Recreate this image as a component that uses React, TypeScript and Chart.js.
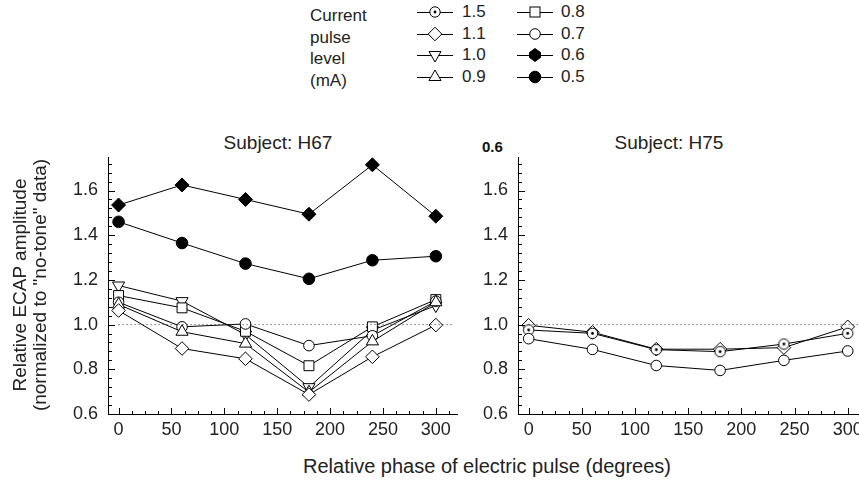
import React, { useEffect, useRef } from "react";
import { Chart, registerables } from "chart.js";
Chart.register(...registerables);

// ---------------- data ----------------
const PHASES = [0, 60, 120, 180, 240, 300];

// Subject H67
const H67_06 = [1.535, 1.625, 1.56, 1.494, 1.715, 1.485];
const H67_05 = [1.46, 1.365, 1.273, 1.205, 1.288, 1.306];
const H67_10 = [1.175, 1.105, 0.955, 0.72, 0.975, 1.085];
const H67_08 = [1.13, 1.075, 0.97, 0.816, 0.99, 1.112];
const H67_07 = [1.1, 0.99, 1.003, 0.906, 0.95, 1.105];
const H67_09 = [1.09, 0.968, 0.915, 0.698, 0.925, 1.1];
const H67_11 = [1.063, 0.893, 0.847, 0.687, 0.856, 0.998];

// Subject H75
const H75_15 = [0.976, 0.961, 0.888, 0.879, 0.913, 0.961];
const H75_11 = [0.997, 0.966, 0.89, 0.89, 0.897, 0.99];
const H75_07 = [0.937, 0.889, 0.817, 0.795, 0.84, 0.882];

const X_TICKS = [0, 50, 100, 150, 200, 250, 300];
const Y_TICKS = [0.6, 0.8, 1.0, 1.2, 1.4, 1.6];
const X_MIN = -10;
const X_MAX = 320;
const Y_MIN = 0.6;
const Y_MAX = 1.75;
const X_MINOR_STEP = 12.5;
const Y_MINOR_STEP = 0.04;
const REF_VALUE = 1.0;
const REF_X = [0, 315];

const LEGEND_TITLE = ["Current", "pulse", "level", "(mA)"];
const LEGEND_COL1 = [
  { label: "1.5", shape: "dotCircle" },
  { label: "1.1", shape: "diamond" },
  { label: "1.0", shape: "triDown" },
  { label: "0.9", shape: "triUp" },
];
const LEGEND_COL2 = [
  { label: "0.8", shape: "square" },
  { label: "0.7", shape: "circle" },
  { label: "0.6", shape: "diamondFilled" },
  { label: "0.5", shape: "circleFilled" },
];

const X_TITLE = "Relative phase of electric pulse (degrees)";
const Y_TITLE_1 = "Relative ECAP amplitude";
const Y_TITLE_2 = '(normalized to "no-tone" data)';

const FONT = '"Liberation Sans", Arial, Helvetica, sans-serif';
const TEXT = "#222";

// ---------------- helpers ----------------
let dotCircleCanvas: HTMLCanvasElement | null = null;
function getDotCircle() {
  if (dotCircleCanvas) return dotCircleCanvas;
  const c = document.createElement("canvas");
  c.width = 13;
  c.height = 13;
  const g = c.getContext("2d")!;
  g.beginPath();
  g.arc(6.5, 6.5, 5.2, 0, Math.PI * 2);
  g.fillStyle = "#fff";
  g.fill();
  g.lineWidth = 1;
  g.strokeStyle = "#000";
  g.stroke();
  g.beginPath();
  g.arc(6.5, 6.5, 1.4, 0, Math.PI * 2);
  g.fillStyle = "#000";
  g.fill();
  dotCircleCanvas = c;
  return c;
}

function styleFor(shape: string): any {
  switch (shape) {
    case "diamondFilled":
      return { pointStyle: "rectRot", pointRadius: 7, pointBackgroundColor: "#000" };
    case "circleFilled":
      return { pointStyle: "circle", pointRadius: 5.8, pointBackgroundColor: "#000" };
    case "triDown":
      return { pointStyle: "triangle", pointRotation: 180, pointRadius: 7, pointBackgroundColor: "#fff" };
    case "triUp":
      return { pointStyle: "triangle", pointRadius: 7, pointBackgroundColor: "#fff" };
    case "square":
      return { pointStyle: "rect", pointRadius: 7, pointBackgroundColor: "#fff" };
    case "circle":
      return { pointStyle: "circle", pointRadius: 5.3, pointBackgroundColor: "#fff" };
    case "diamond":
      return { pointStyle: "rectRot", pointRadius: 6.8, pointBackgroundColor: "#fff" };
    case "dotCircle":
      return { pointStyle: getDotCircle(), pointRadius: 6, pointBackgroundColor: "#fff" };
  }
  return {};
}

function series(label: string, values: number[], shape: string) {
  return {
    label,
    data: PHASES.map((p, i) => ({ x: p, y: values[i] })),
    borderColor: "#000",
    borderWidth: 1,
    pointBorderColor: "#000",
    pointBorderWidth: 1,
    showLine: true,
    ...styleFor(shape),
  };
}

function refLine() {
  return {
    label: "ref",
    data: REF_X.map((x) => ({ x, y: REF_VALUE })),
    borderColor: "#333",
    borderWidth: 1,
    borderDash: [1, 3],
    pointRadius: 0,
    showLine: true,
  };
}

const axisTicks = {
  id: "axisTicks",
  afterDraw(chart: any) {
    const { ctx, chartArea } = chart;
    const xs = chart.scales.x;
    const ys = chart.scales.y;
    ctx.save();
    ctx.strokeStyle = "#000";
    ctx.lineWidth = 1;
    ctx.beginPath();
    for (let v = Y_MIN; v <= Y_MAX + 1e-9; v += Y_MINOR_STEP) {
      const y = Math.round(ys.getPixelForValue(v)) + 0.5;
      const major = Y_TICKS.some((t) => Math.abs(t - v) < 1e-6);
      const len = major ? 7 : 4;
      ctx.moveTo(chartArea.left, y);
      ctx.lineTo(chartArea.left + len, y);
    }
    for (let v = 0; v <= X_MAX + 1e-9; v += X_MINOR_STEP) {
      const x = Math.round(xs.getPixelForValue(v)) + 0.5;
      const major = X_TICKS.some((t) => Math.abs(t - v) < 1e-6);
      const len = major ? 6 : 3;
      ctx.moveTo(x, chartArea.bottom);
      ctx.lineTo(x, chartArea.bottom - len);
    }
    ctx.stroke();
    ctx.restore();
  },
};

function makeOptions(padRight: number): any {
  return {
    animation: false,
    responsive: false,
    maintainAspectRatio: false,
    layout: { padding: { top: 25, right: padRight, bottom: 0, left: 0 } },
    plugins: { legend: { display: false }, tooltip: { enabled: false }, title: { display: false } },
    scales: {
      x: {
        type: "linear",
        min: X_MIN,
        max: X_MAX,
        grid: { display: false, drawTicks: false },
        border: { display: true, color: "#000", width: 1 },
        afterBuildTicks: (s: any) => {
          s.ticks = X_TICKS.map((v) => ({ value: v }));
        },
        afterFit: (s: any) => {
          s.height = 36;
        },
        ticks: {
          padding: 5,
          color: TEXT,
          font: { family: FONT, size: 18 },
          maxRotation: 0,
          callback: (v: any) => String(v),
        },
      },
      y: {
        type: "linear",
        min: Y_MIN,
        max: Y_MAX,
        grid: { display: false, drawTicks: false },
        border: { display: true, color: "#000", width: 1 },
        afterBuildTicks: (s: any) => {
          s.ticks = Y_TICKS.map((v) => ({ value: v }));
        },
        afterFit: (s: any) => {
          s.width = 68;
        },
        ticks: {
          padding: 10,
          color: TEXT,
          font: { family: FONT, size: 18 },
          callback: (v: any) => Number(v).toFixed(1),
        },
      },
    },
  };
}

function Panel(props: { datasets: () => any[]; left: number; padRight: number }) {
  const ref = useRef<HTMLCanvasElement>(null);
  useEffect(() => {
    const chart = new Chart(ref.current!, {
      type: "scatter",
      data: { datasets: props.datasets() },
      options: makeOptions(props.padRight),
      plugins: [axisTicks],
    } as any);
    return () => chart.destroy();
  }, []);
  return (
    <canvas
      ref={ref}
      width={430}
      height={318}
      style={{ position: "absolute", left: props.left, top: 132, width: 430, height: 318 }}
    />
  );
}

function Marker({ shape }: { shape: string }) {
  const c = 18;
  const m = 8;
  let el: any = null;
  const common = { stroke: "#000", strokeWidth: 1 };
  switch (shape) {
    case "dotCircle":
      el = (
        <g>
          <circle cx={c} cy={m} r={5.2} fill="#fff" {...common} />
          <circle cx={c} cy={m} r={1.4} fill="#000" />
        </g>
      );
      break;
    case "diamond":
      el = <polygon points={`${c},${m - 6.8} ${c + 6.8},${m} ${c},${m + 6.8} ${c - 6.8},${m}`} fill="#fff" {...common} />;
      break;
    case "diamondFilled":
      el = <polygon points={`${c},${m - 6.5} ${c + 5.5},${m - 2.5} ${c + 5.5},${m + 2.5} ${c},${m + 6.5} ${c - 5.5},${m + 2.5} ${c - 5.5},${m - 2.5}`} fill="#000" {...common} />;
      break;
    case "triDown":
      el = <polygon points={`${c - 6},${m - 3.5} ${c + 6},${m - 3.5} ${c},${m + 7}`} fill="#fff" {...common} />;
      break;
    case "triUp":
      el = <polygon points={`${c - 6},${m + 3.5} ${c + 6},${m + 3.5} ${c},${m - 7}`} fill="#fff" {...common} />;
      break;
    case "square":
      el = <rect x={c - 5} y={m - 5} width={10} height={10} fill="#fff" {...common} />;
      break;
    case "circle":
      el = <circle cx={c} cy={m} r={5.3} fill="#fff" {...common} />;
      break;
    case "circleFilled":
      el = <circle cx={c} cy={m} r={5.8} fill="#000" {...common} />;
      break;
  }
  return (
    <svg width={36} height={16} style={{ display: "block" }}>
      <line x1={0} y1={m + 0.5} x2={36} y2={m + 0.5} stroke="#000" strokeWidth={1} />
      {el}
    </svg>
  );
}

const ROW_TOPS = [3, 25, 46, 68];

export default function App() {
  const textBase: any = { position: "absolute", fontFamily: FONT, fontSize: 18, lineHeight: "18px", color: TEXT, whiteSpace: "nowrap" };
  return (
    <div style={{ position: "fixed", left: 0, top: 0, width: 859, height: 482, overflow: "hidden", background: "#fff" }}>
      {/* legend */}
      {LEGEND_TITLE.map((t, i) => (
        <div key={"lt" + i} style={{ ...textBase, fontSize: 17, left: 310, top: ROW_TOPS[i] + 4 }}>
          {t}
        </div>
      ))}
      {LEGEND_COL1.map((it, i) => (
        <React.Fragment key={"c1" + i}>
          <div style={{ position: "absolute", left: 417, top: ROW_TOPS[i] + 1 }}>
            <Marker shape={it.shape} />
          </div>
          <div style={{ ...textBase, fontSize: 17, left: 462, top: ROW_TOPS[i] }}>{it.label}</div>
        </React.Fragment>
      ))}
      {LEGEND_COL2.map((it, i) => (
        <React.Fragment key={"c2" + i}>
          <div style={{ position: "absolute", left: 517, top: ROW_TOPS[i] + 1 }}>
            <Marker shape={it.shape} />
          </div>
          <div style={{ ...textBase, fontSize: 17, left: 561, top: ROW_TOPS[i] }}>{it.label}</div>
        </React.Fragment>
      ))}

      {/* panel titles */}
      <div style={{ ...textBase, fontSize: 19, left: 178, width: 200, textAlign: "center", top: 134 }}>Subject: H67</div>
      <div style={{ ...textBase, fontSize: 19, left: 569, width: 200, textAlign: "center", top: 134 }}>Subject: H75</div>
      <div style={{ ...textBase, left: 482, top: 138, fontSize: 15, fontWeight: "bold", color: "#111" }}>0.6</div>

      <Panel
        left={40}
        padRight={13}
        datasets={() => [
          refLine(),
          series("0.6", H67_06, "diamondFilled"),
          series("0.5", H67_05, "circleFilled"),
          series("1.1", H67_11, "diamond"),
          series("0.9", H67_09, "triUp"),
          series("0.7", H67_07, "circle"),
          series("0.8", H67_08, "square"),
          series("1.0", H67_10, "triDown"),
        ]}
      />
      <Panel
        left={450}
        padRight={11}
        datasets={() => [
          refLine(),
          series("0.7", H75_07, "circle"),
          series("1.5", H75_15, "dotCircle"),
          series("1.1", H75_11, "diamond"),
        ]}
      />

      {/* axis titles */}
      <div style={{ ...textBase, fontSize: 20, lineHeight: "20px", left: 237, width: 500, textAlign: "center", top: 456 }}>{X_TITLE}</div>
      <div
        style={{
          ...textBase,
          fontSize: 19,
          lineHeight: "20px",
          left: 10,
          top: 435,
          width: 300,
          textAlign: "center",
          transformOrigin: "0 0",
          transform: "rotate(-90deg)",
        }}
      >
        {Y_TITLE_1}
        <br />
        {Y_TITLE_2}
      </div>
    </div>
  );
}
